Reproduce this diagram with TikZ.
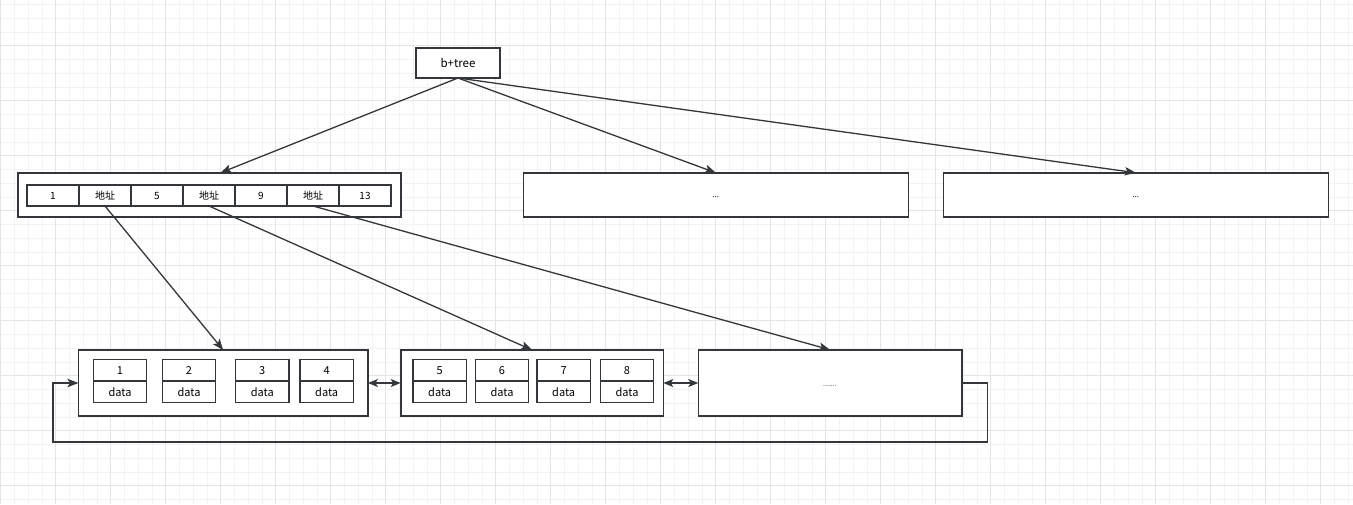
\documentclass[tikz,border=0pt]{standalone}
\usepackage{fontspec}
\setmainfont{Noto Sans CJK SC}
\usetikzlibrary{arrows.meta,positioning}

\definecolor{strokegray}{RGB}{51,55,60}
\definecolor{gridminor}{RGB}{243,243,243}
\definecolor{gridmajor}{RGB}{228,228,228}

\tikzset{every picture/.style={line width=0.75pt}}
\tikzset{
  box/.style={draw=strokegray, fill=white, line width=1.6pt, inner sep=0pt, outer sep=0pt},
  keycell/.style={draw=strokegray, fill=white, line width=1.2pt, minimum width=52pt, minimum height=21pt,
    inner sep=0pt, outer sep=0pt, font=\fontsize{10}{11}\selectfont},
  numcell/.style={draw=strokegray, fill=white, line width=1.2pt, minimum width=53.3pt, minimum height=21.5pt,
    inner sep=0pt, outer sep=0pt, font=\fontsize{11}{12}\selectfont},
  datacell/.style={numcell},
  link/.style={draw=strokegray, line width=1.3pt, -{Stealth[length=11pt,width=8.5pt,inset=2.5pt]}},
  twoway/.style={draw=strokegray, line width=1.3pt, {Stealth[length=10pt,width=8pt,inset=2.5pt]}-{Stealth[length=10pt,width=8pt,inset=2.5pt]}},
  gridline/.style={draw=gridminor, line width=0.9pt},
  gridbold/.style={draw=gridmajor, line width=0.9pt}
}

\begin{document}
\begin{tikzpicture}[x=1pt,y=1pt,yscale=-1]
\useasboundingbox (0,0) rectangle (1353,504);
\fill[white] (0,0) rectangle (1353,504);

%Background grid
\foreach \gx in {0.7,14.45,...,1353} \draw[gridline] (\gx,0) -- (\gx,504);
\foreach \gy in {4.45,18.2,...,504} \draw[gridline] (0,\gy) -- (1353,\gy);
\foreach \gx in {0.7,55.7,...,1353} \draw[gridbold] (\gx,0) -- (\gx,504);
\foreach \gy in {45.7,100.7,...,504} \draw[gridbold] (0,\gy) -- (1353,\gy);

%Shape: Rectangle [id:root]
\node[box, minimum width=84pt, minimum height=30pt, font=\fontsize{11.5}{12}\selectfont] (root) at (458,63) {b+tree};

%Shape: Rectangle [id:int1]
\node[box, minimum width=383pt, minimum height=44.5pt] (int1) at (209.5,195) {};
\foreach \txt [count=\i] in {1,地址,5,地址,9,地址,13}
  \node[keycell] (k\i) at ({1+52*\i},195.5) {\txt};

%Shape: Rectangle [id:int2]
\node[box, minimum width=385pt, minimum height=44.5pt, font=\fontsize{8}{8}\selectfont, text height=5pt, text depth=0pt] (int2) at (715.8,195) {...};
%Shape: Rectangle [id:int3]
\node[box, minimum width=385pt, minimum height=44.5pt, font=\fontsize{8}{8}\selectfont, text height=5pt, text depth=0pt] (int3) at (1135.8,195) {...};

%Shape: Rectangle [id:leaf1]
\node[box, minimum width=289.5pt, minimum height=66pt] (leaf1) at (223.2,383) {};
%Shape: Rectangle [id:leaf2]
\node[box, minimum width=262.6pt, minimum height=66pt] (leaf2) at (532,383) {};
%Shape: Rectangle [id:leaf3]
\node[box, minimum width=263.4pt, minimum height=66.5pt, font=\fontsize{7}{7}\selectfont, text height=6pt, text depth=0pt] (leaf3) at (830,383) {.......};

%Leaf entries
\foreach \nx [count=\i] in {120,189,262.3,326.7,439.7,502,563.7,627} {
  \node[numcell] (n\i) at (\nx,370.2) {\i};
  \node[datacell, below=0pt of n\i] (d\i) {data};
}

%Connectors from the root
\draw[link] (root.south) -- ([xshift=11pt]int1.north);
\draw[link] (root.south) -- (int2.north);
\draw[link] (root.south) -- (int3.north);

%Connectors from the keys
\draw[link] (k2.south) -- (leaf1.north);
\draw[link] (k4.south) -- (leaf2.north);
\draw[link] (k6.south) -- (leaf3.north);

%Sibling links
\draw[twoway] (leaf1.east) -- (leaf2.west);
\draw[twoway] (leaf2.east) -- (leaf3.west);
\draw[link] (leaf3.east) -- ++(26,0) -- ++(0,59) -| ([xshift=-25.5pt]leaf1.west) -- (leaf1.west);

\end{tikzpicture}
\end{document}
